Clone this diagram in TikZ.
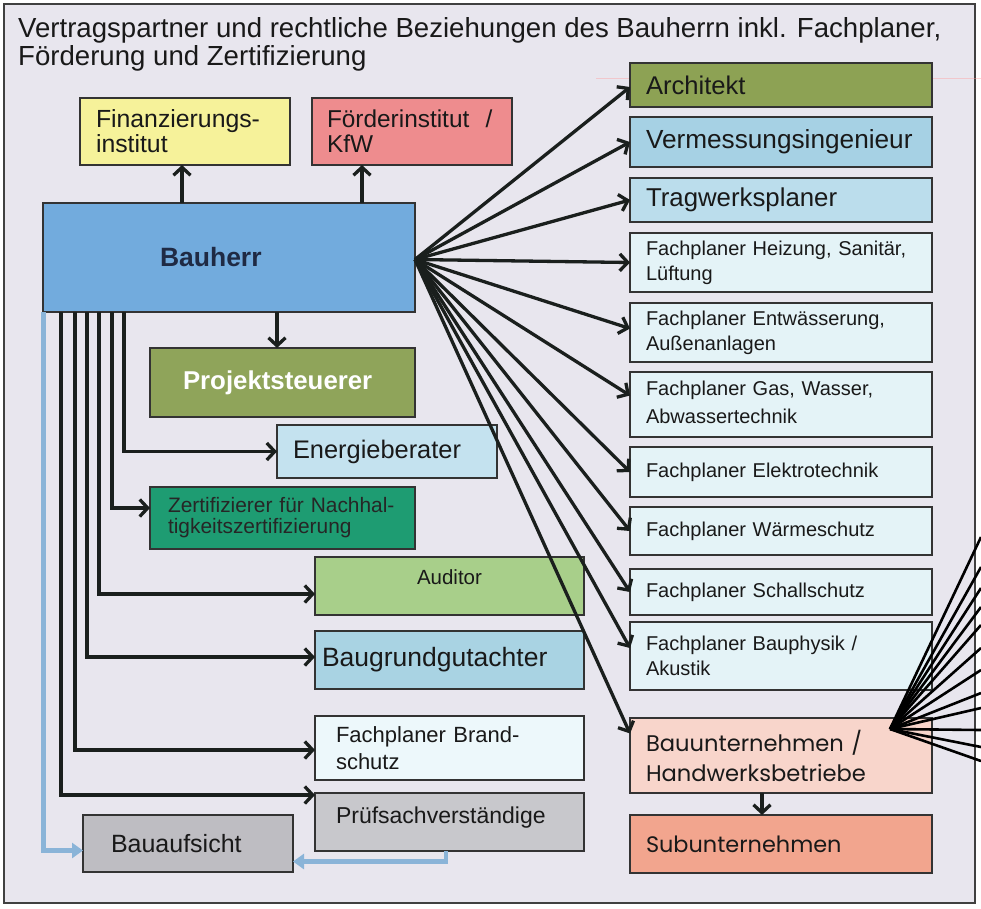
\documentclass[tikz,border=0pt]{standalone}
\usepackage{fontspec}
\setmainfont{Liberation Sans}
\newfontfamily\popfont{Poppins}
\usetikzlibrary{arrows.meta}
\newcommand\fsz[2]{\fontsize{#1}{#2}\selectfont}
\definecolor{bgc}{HTML}{E8E6EE}
\definecolor{cFin}{HTML}{F6F29A}
\definecolor{cFoe}{HTML}{EE8C8E}
\definecolor{cBh}{HTML}{72ABDD}
\definecolor{cPS}{HTML}{8FA45A}
\definecolor{cArch}{HTML}{8DA254}
\definecolor{cVerm}{HTML}{A6D1E4}
\definecolor{cTrag}{HTML}{BBDDEC}
\definecolor{cFP}{HTML}{E4F3F7}
\definecolor{cEnergie}{HTML}{C4E2EF}
\definecolor{cZert}{HTML}{1E9C72}
\definecolor{cAud}{HTML}{A8CF8A}
\definecolor{cBaug}{HTML}{A9D3E3}
\definecolor{cBrand}{HTML}{EDF8FB}
\definecolor{cPruef}{HTML}{C8C8CC}
\definecolor{cBauauf}{HTML}{BEBDC2}
\definecolor{cBU}{HTML}{F8D5CB}
\definecolor{cSub}{HTML}{F2A58E}
\definecolor{cBlue}{HTML}{8AB4D8}
\definecolor{cLine}{HTML}{1A1F1D}
\definecolor{cBhText}{HTML}{1F2A44}
\begin{document}
\begin{tikzpicture}[x=1pt,y=-1pt,
  box/.style={draw=black!80, line width=1.3pt, anchor=north west, inner ysep=0pt, outer sep=0pt, align=left, text=black!90},
  rbox/.style={box, minimum width=302pt, inner xsep=16pt, text width=270pt},
  arr/.style={line width=3.3pt, draw=cLine, -{Straight Barb[length=8pt,width=17pt]}},
  barr/.style={line width=4.5pt, draw=cBlue, -{Triangle[length=11pt,width=15pt]}},
  fanl/.style={line width=2.6pt, draw=black}]
\useasboundingbox (0,0) rectangle (981,908);
\fill[white] (0,0) rectangle (981,908);
\draw[fill=bgc, draw=black!75, line width=1.5pt] (4,4) rectangle (975,903);
\draw[draw=pink!80!red, opacity=0.4, line width=0.8pt] (596,78) -- (981,78);
% title
\node[anchor=north west, align=left, inner sep=0pt, font=\fsz{27.6}{28.5}, text=black!90] (title) at (18,17)
  {Vertragspartner und rechtliche Beziehungen des Bauherrn inkl. Fachplaner,\\Förderung und Zertifizierung};
% left top
\node[box, fill=cFin, minimum width=210pt, minimum height=67pt, inner xsep=16pt, text width=178pt, font=\fsz{24.8}{25}] (fin) at (80,98) {Finanzierungs-\\institut};
\node[box, fill=cFoe, minimum width=200pt, minimum height=67pt, inner xsep=15pt, text width=170pt, font=\fsz{24.4}{25}] (foe) at (312,98) {Förderinstitut \ /\\KfW};
\node[box, fill=cBh, minimum width=372pt, minimum height=109pt, inner xsep=117pt, text width=138pt, font=\fsz{26.5}{28}\bfseries, text=cBhText] (bauherr) at (43,203) {\raisebox{2pt}{Bauherr}};
\node[box, fill=cPS, minimum width=265pt, minimum height=69pt, inner xsep=33pt, text width=199pt, font=\fsz{25.8}{27}\bfseries, text=white] (ps) at (150,348) {\raisebox{4pt}{Projektsteuerer}};
\node[box, fill=cEnergie, minimum width=220pt, minimum height=53pt, inner xsep=16pt, text width=188pt, font=\fsz{25.4}{27}] (energie) at (277,425) {Energieberater};
\node[box, fill=cZert, minimum width=265pt, minimum height=62pt, inner xsep=18pt, text width=229pt, font=\fsz{20.9}{21}, text=black!85] (zert) at (150,487) {Zertifizierer für Nachhal-\\tigkeitszertifizierung};
\node[box, fill=cAud, minimum width=269pt, minimum height=58pt, inner xsep=15pt, text width=239pt, align=center, font=\fsz{20.5}{22}, text height=14.6pt, text depth=18pt] (aud) at (315,557) {Auditor};
\node[box, fill=cBaug, minimum width=269pt, minimum height=58pt, inner xsep=7pt, text width=255pt, font=\fsz{26.5}{28}] (baug) at (315,631) {Baugrundgutachter};
\node[box, fill=cBrand, minimum width=269pt, minimum height=64pt, inner xsep=21pt, text width=227pt, font=\fsz{22}{27}] (brand) at (315,716) {Fachplaner Brand-\\schutz};
\node[box, fill=cPruef, minimum width=269pt, minimum height=58pt, inner xsep=21pt, text width=227pt, font=\fsz{23}{25}, text height=17pt, text depth=14.5pt] (pruef) at (315,793) {Prüfsachverständige};
\node[box, fill=cBauauf, minimum width=210pt, minimum height=57pt, inner xsep=28pt, text width=154pt, font=\fsz{25}{26}] (bauauf) at (83,815) {Bauaufsicht};
% right column
\node[rbox, fill=cArch, minimum height=44pt, font=\fsz{25.6}{27}] (arch) at (630,63) {Architekt};
\node[rbox, fill=cVerm, minimum height=50pt, font=\fsz{26.2}{27}] (verm) at (630,117) {Vermessungsingenieur};
\node[rbox, fill=cTrag, minimum height=44pt, font=\fsz{25.8}{27}] (trag) at (630,178) {Tragwerksplaner};
\node[rbox, fill=cFP, minimum height=59pt, font=\fsz{20}{25}] (heiz) at (630,233) {Fachplaner Heizung, Sanitär,\\Lüftung};
\node[rbox, fill=cFP, minimum height=59pt, font=\fsz{20}{25}] (entw) at (630,303) {Fachplaner Entwässerung,\\Außenanlagen};
\node[rbox, fill=cFP, minimum height=65pt, font=\fsz{20}{28}] (gas) at (630,372) {\raisebox{5pt}{Fachplaner Gas, Wasser,}\\\raisebox{5pt}{Abwassertechnik}};
\node[rbox, fill=cFP, minimum height=50pt, font=\fsz{20}{25}] (elek) at (630,447) {Fachplaner Elektrotechnik};
\node[rbox, fill=cFP, minimum height=48pt, font=\fsz{20}{25}] (waerme) at (630,507) {Fachplaner Wärmeschutz};
\node[rbox, fill=cFP, minimum height=46pt, font=\fsz{20}{25}] (schall) at (630,569) {Fachplaner Schallschutz};
\node[rbox, fill=cFP, minimum height=68pt, font=\fsz{20}{25}] (bauph) at (630,622) {Fachplaner Bauphysik /\\Akustik};
\node[rbox, fill=cBU, minimum height=75pt, font=\popfont\fsz{22.6}{30}] (bu) at (630,718) {Bauunternehmen /\\Handwerksbetriebe};
\node[rbox, fill=cSub, minimum height=58pt, font=\popfont\fsz{22.4}{26}] (sub) at (630,815) {Subunternehmen};
% vertical arrows
\path ([xshift=139pt]bauherr.north west) coordinate (bhA)
      ([xshift=319pt]bauherr.north west) coordinate (bhB)
      ([xshift=234pt]bauherr.south west) coordinate (bhC)
      ([xshift=132pt]bu.south west) coordinate (buS);
\draw[arr] (bhA) -- (bhA |- fin.south);
\draw[arr] (bhB) -- (bhB |- foe.south);
\draw[arr] (bhC) -- (bhC |- ps.north);
\draw[arr] (buS) -- (buS |- sub.north);
% left bundle
\draw[arr] ([xshift=81pt]bauherr.south west) |- (energie.west);
\draw[arr] ([xshift=69pt]bauherr.south west) |- ([yshift=10pt]zert.west);
\draw[arr] ([xshift=56pt]bauherr.south west) |- ([yshift=-8pt]aud.west);
\draw[arr] ([xshift=44pt]bauherr.south west) |- ([yshift=3pt]baug.west);
\draw[arr] ([xshift=32pt]bauherr.south west) |- ([yshift=-2pt]brand.west);
\draw[arr] ([xshift=18pt]bauherr.south west) |- ([yshift=-2pt]pruef.north west);
\draw[barr] ([xshift=0.5pt]bauherr.south west) |- ([yshift=-7pt]bauauf.west);
\draw[barr] ([xshift=131pt]pruef.south west) |- ([yshift=-18pt]bauauf.east);
% right fan
\coordinate (bhR) at ([yshift=-2pt]bauherr.east);
\draw[arr] (bhR) -- ([yshift=-2pt]arch.west);
\draw[arr] (bhR) -- (verm.west);
\draw[arr] (bhR) -- (trag.west);
\draw[arr] (bhR) -- (heiz.west);
\draw[arr] (bhR) -- ([yshift=4pt]entw.west);
\draw[arr] (bhR) -- ([yshift=9pt]gas.west);
\draw[arr] (bhR) -- (elek.west);
\draw[arr] (bhR) -- (waerme.west);
\draw[arr] (bhR) -- (schall.west);
\draw[arr] (bhR) -- ([yshift=8pt]bauph.west);
\draw[arr] (bhR) -- ([yshift=22pt]bu.west);
% bottom-right fan
\coordinate (buo) at ([xshift=-42pt,yshift=-11pt]bu.north east);
\foreach \yy [count=\i] in {537,567,588,607,625,648,670,693,708,730,747,761} {
  \coordinate (fe\i) at (981,\yy);
  \draw[fanl] (buo) -- (fe\i);
}
\end{tikzpicture}
\end{document}
